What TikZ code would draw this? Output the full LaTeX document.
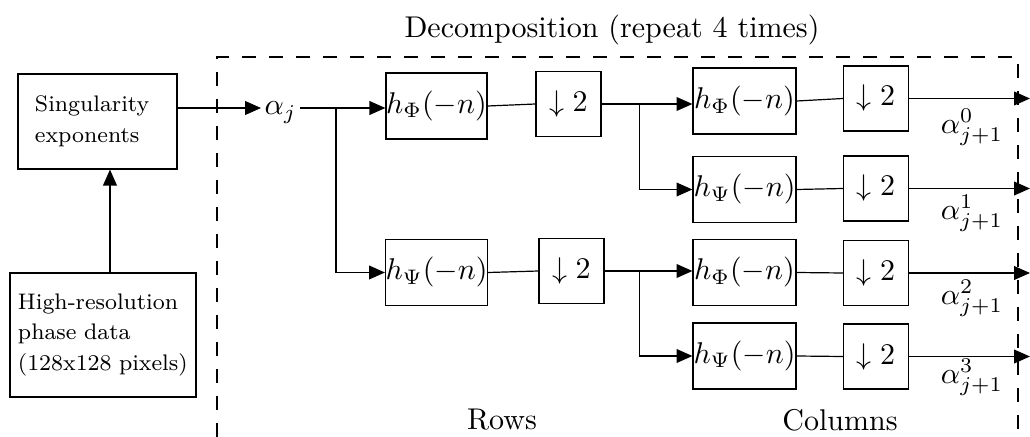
\documentclass[tikz,border=0pt]{standalone}
\usetikzlibrary{arrows.meta}
\tikzset{
  arr/.style={-{Triangle[length=5.3pt,width=4.6pt]}},
  blk/.style={draw, inner sep=0pt, minimum width=33.67pt, minimum height=22pt},
  cblk/.style={draw, inner sep=0pt, minimum width=34.33pt, minimum height=22pt},
  dbox/.style={draw, inner sep=0pt, minimum width=21.67pt, minimum height=21.67pt},
  small/.style={font=\fontsize{7.5}{10.2}\selectfont, align=left},
  lbl/.style={inner sep=0pt},
  frame/.style={dash pattern=on 4.5pt off 4.5pt},
}
\begin{document}
\begin{tikzpicture}[x=0.33333pt,y=-0.33333pt]
\useasboundingbox (0,0) rectangle (1030,437);

% title and captions
\node[lbl] (title) at (612,30) {Decomposition (repeat 4 times)};
\node[lbl] (rows) at (502,420) {Rows};
\node[lbl] (cols) at (840,420) {Columns};

% dashed frame (runs off the bottom edge)
\draw[frame] (217,437) -- (217,57) -- (1018,57) -- (1018,437);

% input boxes
\node[draw, small, text width=41.67pt, inner xsep=5.67pt, minimum height=31.67pt] (sing) at (97.5,121.5) {Singularity\\exponents};
\node[draw, small, text width=56.67pt, inner xsep=2.67pt, minimum height=41.33pt] (hires) at (103,335) {High-resolution\\phase data\\(128x128 pixels)};
\draw[arr] ([xshift=2.33pt]hires.north) -- ([xshift=2.33pt]hires.north |- sing.south);

% alpha_j
\node[inner xsep=1pt, inner ysep=0pt, text height=4.4pt, text depth=0pt, anchor=west] (aj) at (261,108) {$\alpha_j$};
\draw[arr] (sing.east |- aj.west) -- (aj.west);
\coordinate (j0) at (336,108);

% row stage
\node[blk] (hP1) at (436.5,106) {$h_\Phi(-n)$};
\node[dbox] (d1) at (568.5,104) {$\downarrow 2$};
\node[blk] (hS1) at (436.5,272.5) {$h_\Psi(-n)$};
\node[dbox] (d2) at (571.5,271) {$\downarrow 2$};

\draw (aj.east) -- (j0);
\draw[arr] (j0) -- (j0 -| hP1.west);
\draw[arr] (j0) |- (hS1.west);
\draw (hP1.east) -- (d1.west);
\draw (hS1.east) -- (d2.west);

% column stage
\node[cblk] (cP1) at (744.5,101) {$h_\Phi(-n)$};
\node[dbox] (cD1) at (876,98.5) {$\downarrow 2$};
\node[cblk] (cS2) at (744.5,189.5) {$h_\Psi(-n)$};
\node[dbox] (cD2) at (876,188.5) {$\downarrow 2$};
\node[cblk] (cP3) at (744.5,272.5) {$h_\Phi(-n)$};
\node[dbox] (cD3) at (876,273) {$\downarrow 2$};
\node[cblk] (cS4) at (744.5,356) {$h_\Psi(-n)$};
\node[dbox] (cD4) at (876,356.5) {$\downarrow 2$};

\path (d1.east) ++(38,0) coordinate (j1);
\path (d2.east) ++(35,0) coordinate (j2);
\draw (d1.east) -- (j1);
\draw[arr] (j1) -- (j1 -| cP1.west);
\draw[arr] (j1) |- (cS2.west);
\draw (d2.east) -- (j2);
\draw[arr] (j2) -- (j2 -| cP3.west);
\draw[arr] (j2) |- (cS4.west);

\draw (cP1.east) -- (cD1.west);
\draw (cS2.east) -- (cD2.west);
\draw (cP3.east) -- (cD3.west);
\draw (cS4.east) -- (cD4.west);

% outputs
\coordinate (oR) at (1030,0);
\draw[arr] (cD1.east) -- (cD1.east -| oR);
\draw[arr] (cD2.east) -- (cD2.east -| oR);
\draw[arr] (cD3.east) -- (cD3.east -| oR);
\draw[arr] (cD4.east) -- (cD4.east -| oR);

\node[lbl] (a0) at (972,127) {$\alpha^0_{j+1}$};
\node[lbl] (a1) at (972,213) {$\alpha^1_{j+1}$};
\node[lbl] (a2) at (972,298) {$\alpha^2_{j+1}$};
\node[lbl] (a3) at (972,377) {$\alpha^3_{j+1}$};
\end{tikzpicture}
\end{document}
